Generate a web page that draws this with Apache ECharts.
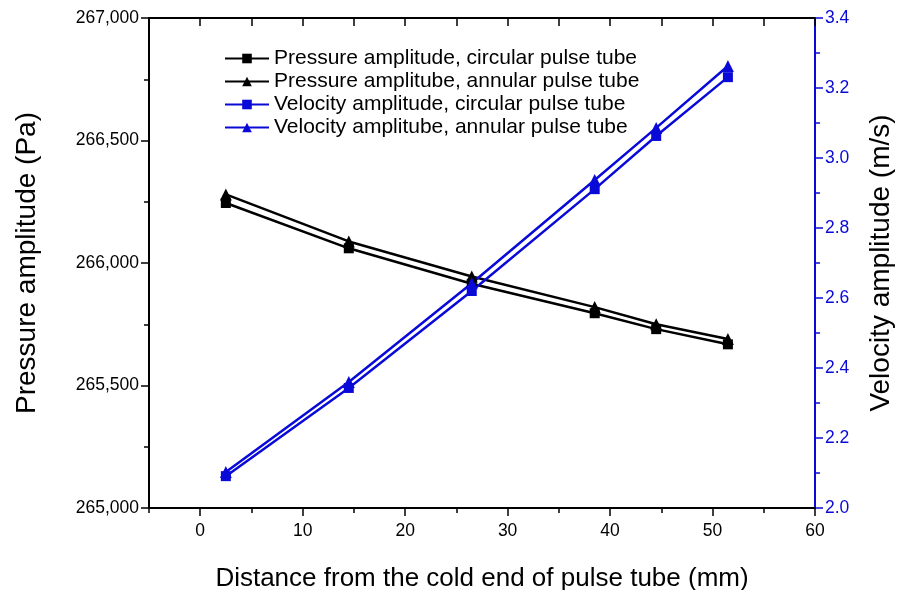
<!DOCTYPE html>
<html>
<head>
<meta charset="utf-8">
<script src="https://cdn.jsdelivr.net/npm/echarts@6/dist/echarts.min.js"></script>
<style>html,body{margin:0;padding:0;background:#fff}#c{width:897px;height:590px}</style>
</head>
<body>
<div id="c"></div>
<script>
// distance from the cold end (mm)
const distance = [2.5, 14.5, 26.5, 38.5, 44.5, 51.5];
// pressure amplitude (Pa)
const pressureCircular = [266245, 266060, 265915, 265795, 265730, 265668];
const pressureAnnular  = [266280, 266088, 265945, 265820, 265750, 265690];
// velocity amplitude (m/s)
const velocityCircular = [2.091, 2.343, 2.620, 2.911, 3.063, 3.231];
const velocityAnnular  = [2.103, 2.360, 2.642, 2.937, 3.086, 3.263];
// tick labels
const xTickLabels = [0, 10, 20, 30, 40, 50, 60];

const seriesNames = [
  'Pressure amplitude, circular pulse tube',
  'Pressure amplitube, annular pulse tube',
  'Velocity amplitude, circular pulse tube',
  'Velocity amplitube, annular pulse tube'
];

const BLUE = '#0a0ad8';
const FONT = 'Liberation Sans, Arial, sans-serif';

function pairs(xs, ys) { return xs.map((x, i) => [x, ys[i]]); }

const chart = echarts.init(document.getElementById('c'), null, {renderer: 'canvas'});

const mkSeries = (name, data, color, symbol, size, yIdx) => ({
  name, type: 'line', data, xAxisIndex: 0, yAxisIndex: yIdx,
  symbol, symbolSize: size, showSymbol: true,
  lineStyle: {color, width: 2.5},
  itemStyle: {color, borderWidth: 0},
  emphasis: {disabled: true},
  animation: false
});

chart.setOption({
  animation: false,
  grid: {left: 149, right: 82, top: 18, bottom: 82, containLabel: false, outerBoundsMode: 'none'},
  legend: {
    orient: 'vertical', left: 219, top: 43,
    itemWidth: 44, itemHeight: 12, itemGap: 2,
    textStyle: {fontSize: 21, fontFamily: FONT, color: '#000', lineHeight: 21},
    data: seriesNames
  },
  xAxis: [
    {
      type: 'value', position: 'bottom', min: -5, max: 60,
      name: 'Distance from the cold end of pulse tube (mm)',
      nameLocation: 'middle', nameGap: 58,
      nameTextStyle: {fontSize: 26, fontFamily: FONT, color: '#000'},
      axisLine: {show: true, onZero: false, lineStyle: {color: '#000', width: 2}},
      axisTick: {show: true, customValues: xTickLabels, length: 8, inside: false, lineStyle: {color: '#000', width: 1.5}},
      axisLabel: {show: true, customValues: xTickLabels, fontSize: 17.5, fontFamily: FONT, color: '#000', margin: 14},
      splitLine: {show: false}
    },
    {
      type: 'value', position: 'bottom', min: -5, max: 60, interval: 5,
      axisLine: {show: false, onZero: false},
      axisTick: {show: true, length: 5, inside: false, lineStyle: {color: '#000', width: 1.5}},
      axisLabel: {show: false},
      splitLine: {show: false}
    },
    {
      type: 'value', position: 'top', min: -5, max: 60, interval: 5,
      axisLine: {show: true, onZero: false, lineStyle: {color: '#000', width: 2}},
      axisTick: {show: true, length: 8, inside: true, lineStyle: {color: '#000', width: 1.5}},
      axisLabel: {show: false},
      splitLine: {show: false}
    }
  ],
  yAxis: [
    {
      type: 'value', position: 'left', min: 265000, max: 267000, interval: 500,
      name: 'Pressure amplitude (Pa)', nameLocation: 'middle', nameGap: 108, nameRotate: 90,
      nameTextStyle: {fontSize: 28, fontFamily: FONT, color: '#000'},
      axisLine: {show: true, onZero: false, lineStyle: {color: '#000', width: 2}},
      axisTick: {show: true, length: 8, inside: false, lineStyle: {color: '#000', width: 1.5}},
      minorTick: {show: true, splitNumber: 2, length: 5, lineStyle: {color: '#000', width: 1.5}},
      axisLabel: {fontSize: 17.5, fontFamily: FONT, color: '#000', margin: 10,
        formatter: v => v.toLocaleString('en-US')},
      splitLine: {show: false}
    },
    {
      type: 'value', position: 'right', min: 2.0, max: 3.4, interval: 0.2,
      name: 'Velocity amplitude (m/s)', nameLocation: 'middle', nameGap: 52, nameRotate: 90,
      nameTextStyle: {fontSize: 28, fontFamily: FONT, color: '#000'},
      axisLine: {show: true, onZero: false, lineStyle: {color: BLUE, width: 2}},
      axisTick: {show: true, length: 8, inside: false, lineStyle: {color: BLUE, width: 1.5}},
      minorTick: {show: true, splitNumber: 2, length: 5, lineStyle: {color: BLUE, width: 1.5}},
      axisLabel: {fontSize: 17.5, fontFamily: FONT, color: BLUE, margin: 10,
        formatter: v => v.toFixed(1)},
      splitLine: {show: false}
    }
  ],
  series: [
    mkSeries(seriesNames[0], pairs(distance, pressureCircular), '#000', 'rect', 10, 0),
    mkSeries(seriesNames[1], pairs(distance, pressureAnnular), '#000', 'triangle', 12, 0),
    mkSeries(seriesNames[2], pairs(distance, velocityCircular), BLUE, 'rect', 10, 1),
    mkSeries(seriesNames[3], pairs(distance, velocityAnnular), BLUE, 'triangle', 12, 1)
  ]
});
</script>
</body>
</html>
